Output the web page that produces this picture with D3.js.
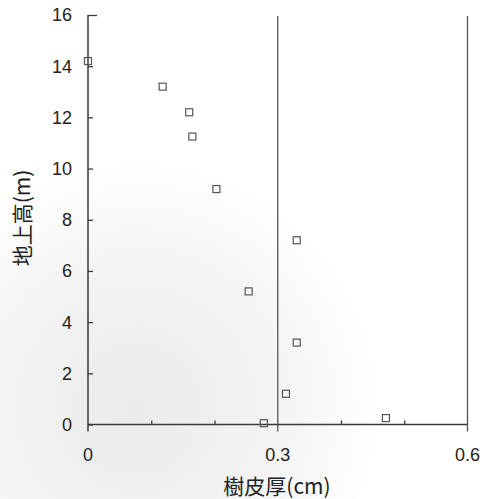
<!DOCTYPE html>
<html>
<head>
<meta charset="utf-8">
<script src="https://cdn.jsdelivr.net/npm/d3@7"></script>
<style>
  body { margin: 0; background: #fff; }
  svg { display: block; font-family: "Liberation Sans", Arial, sans-serif; }
</style>
</head>
<body>
<div id="chart"></div>
<script>
// data
const barkThickness = [0, 0.118, 0.16, 0.165, 0.203, 0.254, 0.33, 0.33, 0.313, 0.278, 0.471]; // cm
const heightAbove   = [14.2, 13.2, 12.2, 11.25, 9.2, 5.2, 7.2, 3.2, 1.2, 0.05, 0.25];        // m
const yTicks = [0, 2, 4, 6, 8, 10, 12, 14, 16];
const xLabelTicks = [0, 0.3, 0.6];
const xMinorTicks = [0.1, 0.2, 0.4, 0.5];
const xTitle = "樹皮厚(cm)";
const yTitle = "地上高(m)";

const W = 488, H = 499;
const margin = { top: 15, left: 88 };
const width = 467.5 - margin.left;
const height = 424.5 - margin.top;

const svg = d3.select("#chart").append("svg")
    .attr("width", W)
    .attr("height", H);

// faint grey wash of the scanned page (lower left)
const defs = svg.append("defs");
const grad = defs.append("radialGradient").attr("id", "wash")
    .attr("cx", "0.28").attr("cy", "0.82").attr("r", "0.5");
grad.append("stop").attr("offset", "0%").attr("stop-color", "#ebebeb");
grad.append("stop").attr("offset", "55%").attr("stop-color", "#f3f3f3");
grad.append("stop").attr("offset", "100%").attr("stop-color", "#fff");
svg.append("rect").attr("width", W).attr("height", H).attr("fill", "url(#wash)");

const g = svg.append("g")
    .attr("transform", `translate(${margin.left},${margin.top})`);

const x = d3.scaleLinear().domain([0, 0.6]).range([0, width]);
const y = d3.scaleLinear().domain([0, 16]).range([height, 0]);

const axisColor = "#3a3a3a";

// vertical lines at 0.3 and 0.6 – run a bit below the x axis
g.selectAll(".vline")
    .data([0.3, 0.6])
    .enter().append("line")
    .attr("x1", d => x(d)).attr("x2", d => x(d))
    .attr("y1", 1).attr("y2", height + 7)
    .attr("stroke", "#555")
    .attr("stroke-width", 1.3);

// y axis (ticks pointing inward)
const yAxis = g.append("g")
    .call(d3.axisRight(y).tickValues(yTicks).tickSize(5).tickFormat(""));
yAxis.select(".domain").remove();
yAxis.selectAll("line").attr("stroke", axisColor).attr("stroke-width", 1.3);
yAxis.append("line")
    .attr("x1", 0).attr("x2", 0)
    .attr("y1", 0).attr("y2", height + 7)
    .attr("stroke", axisColor).attr("stroke-width", 1.5);
yAxis.selectAll(".tick").filter(d => d === 16).select("line").attr("x2", 9);

g.selectAll(".ylab")
    .data(yTicks)
    .enter().append("text")
    .attr("x", -16)
    .attr("y", d => y(d))
    .attr("dy", "0.36em")
    .attr("text-anchor", "end")
    .attr("fill", "#222")
    .style("font-size", "18px")
    .text(d => d);

// x axis
const xAxis = g.append("g")
    .attr("transform", `translate(0,${height})`)
    .call(d3.axisTop(x).tickValues(xMinorTicks).tickSize(4).tickFormat(""));
xAxis.select(".domain").remove();
xAxis.selectAll("line").attr("stroke", axisColor).attr("stroke-width", 1.3);
xAxis.append("line")
    .attr("x1", 0).attr("x2", width)
    .attr("y1", 0).attr("y2", 0)
    .attr("stroke", axisColor).attr("stroke-width", 1.5);

g.selectAll(".xlab")
    .data(xLabelTicks)
    .enter().append("text")
    .attr("x", d => x(d))
    .attr("y", height + 30)
    .attr("dy", "0.36em")
    .attr("text-anchor", "middle")
    .attr("fill", "#222")
    .style("font-size", "18px")
    .text(d => d);

// axis titles
svg.append("text")
    .attr("x", 277)
    .attr("y", 486)
    .attr("dy", "0.36em")
    .attr("text-anchor", "middle")
    .attr("fill", "#222")
    .style("font-family", "'Noto Sans CJK JP', sans-serif")
    .style("font-size", "21px")
    .text(xTitle);

svg.append("text")
    .attr("transform", "translate(22,218) rotate(-90)")
    .attr("dy", "0.36em")
    .attr("text-anchor", "middle")
    .attr("fill", "#222")
    .style("font-family", "'Noto Sans CJK JP', sans-serif")
    .style("font-size", "21px")
    .text(yTitle);

// points: hollow squares
const pts = barkThickness.map((v, i) => ({ x: v, y: heightAbove[i] }));
const s = 7;
g.selectAll(".pt")
    .data(pts)
    .enter().append("rect")
    .attr("x", d => x(d.x) - s / 2)
    .attr("y", d => y(d.y) - s / 2)
    .attr("width", s).attr("height", s)
    .attr("fill", "none")
    .attr("stroke", "#555")
    .attr("stroke-width", 1.2);
</script>
</body>
</html>
